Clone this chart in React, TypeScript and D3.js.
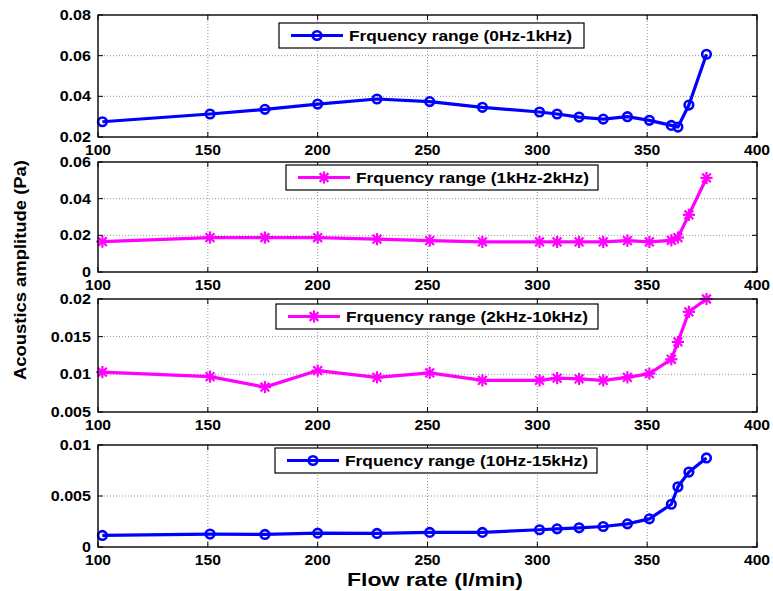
import React from "react";
import * as d3 from "d3";

const flowRate = [102, 151, 176, 200, 227, 251, 275, 301, 309, 319, 330, 341, 351, 361, 364, 369, 377];
const range0to1k = [0.0275, 0.0313, 0.0336, 0.0362, 0.0387, 0.0374, 0.0346, 0.0323, 0.0313, 0.0298, 0.0288, 0.03, 0.0282, 0.0257, 0.0249, 0.0357, 0.0607];
const range1to2k = [0.0166, 0.0188, 0.0188, 0.0188, 0.0179, 0.0171, 0.0164, 0.0164, 0.0164, 0.0164, 0.0164, 0.0171, 0.0164, 0.0173, 0.0188, 0.0312, 0.0513];
const range2to10k = [0.0103, 0.0097, 0.0083, 0.0105, 0.0096, 0.0102, 0.0092, 0.0092, 0.0095, 0.0094, 0.0092, 0.0096, 0.0101, 0.012, 0.0143, 0.0183, 0.02];
const range10to15k = [0.00113, 0.00127, 0.00123, 0.00136, 0.00133, 0.00143, 0.00143, 0.00169, 0.00178, 0.00188, 0.00201, 0.00227, 0.00276, 0.00419, 0.0059, 0.00735, 0.00873];

const xTicks = [100, 150, 200, 250, 300, 350, 400];
const yTicks1 = [0.02, 0.04, 0.06, 0.08];
const yTicks2 = [0, 0.02, 0.04, 0.06];
const yTicks3 = [0.005, 0.01, 0.015, 0.02];
const yTicks4 = [0, 0.005, 0.01];
const yTickLabels1 = ["0.02", "0.04", "0.06", "0.08"];
const yTickLabels2 = ["0", "0.02", "0.04", "0.06"];
const yTickLabels3 = ["0.005", "0.01", "0.015", "0.02"];
const yTickLabels4 = ["0", "0.005", "0.01"];
const legendLabels = [
  "Frquency range (0Hz-1kHz)",
  "Frquency range (1kHz-2kHz)",
  "Frquency range (2kHz-10kHz)",
  "Frquency range (10Hz-15kHz)",
];

const BLUE = "#0000ff";
const MAGENTA = "#ff00ff";
const FONT = "'Liberation Sans', Arial, sans-serif";

const LEFT = 98;
const RIGHT = 757;

type Panel = {
  values: number[];
  ticks: number[];
  tickLabels: string[];
  top: number;
  bottom: number;
  color: string;
  marker: "circle" | "star";
  legend: string;
  legX: number;
  legY: number;
  legW: number;
  legTextW: number;
};

const panels: Panel[] = [
  { values: range0to1k, ticks: yTicks1, tickLabels: yTickLabels1, top: 15, bottom: 137, color: BLUE, marker: "circle", legend: legendLabels[0], legX: 279, legY: 23, legW: 305, legTextW: 223 },
  { values: range1to2k, ticks: yTicks2, tickLabels: yTickLabels2, top: 162, bottom: 272, color: MAGENTA, marker: "star", legend: legendLabels[1], legX: 286, legY: 165, legW: 312, legTextW: 233 },
  { values: range2to10k, ticks: yTicks3, tickLabels: yTickLabels3, top: 299, bottom: 412, color: MAGENTA, marker: "star", legend: legendLabels[2], legX: 276, legY: 304, legW: 322, legTextW: 242 },
  { values: range10to15k, ticks: yTicks4, tickLabels: yTickLabels4, top: 445, bottom: 547, color: BLUE, marker: "circle", legend: legendLabels[3], legX: 275, legY: 448, legW: 322, legTextW: 243 },
];

const x = d3.scaleLinear().domain([100, 400]).range([LEFT, RIGHT]);

function Marker({ kind, cx, cy, color }: { kind: string; cx: number; cy: number; color: string }) {
  if (kind === "circle") {
    return <circle cx={cx} cy={cy} r={4.3} fill="none" stroke={color} strokeWidth={2.6} />;
  }
  const s = 5;
  const d = 3.6;
  return (
    <g stroke={color} strokeWidth={2.2} strokeLinecap="square">
      <line x1={cx - s} y1={cy} x2={cx + s} y2={cy} />
      <line x1={cx} y1={cy - s} x2={cx} y2={cy + s} />
      <line x1={cx - d} y1={cy - d} x2={cx + d} y2={cy + d} />
      <line x1={cx - d} y1={cy + d} x2={cx + d} y2={cy - d} />
    </g>
  );
}

function PanelView({ p }: { p: Panel }) {
  const y = d3.scaleLinear().domain([p.ticks[0], p.ticks[p.ticks.length - 1]]).range([p.bottom, p.top]);
  const line = d3
    .line<number>()
    .x((_, i) => x(flowRate[i]))
    .y((v) => y(v));
  const tl = 5;
  const legMid = p.legY + 12.5;
  return (
    <g>
      {/* grid */}
      {xTicks.slice(1, -1).map((t) => (
        <line key={"gx" + t} x1={x(t)} x2={x(t)} y1={p.top} y2={p.bottom} stroke="#777" strokeWidth={0.8} strokeDasharray="1,2" />
      ))}
      {p.ticks.slice(1, -1).map((t) => (
        <line key={"gy" + t} x1={LEFT} x2={RIGHT} y1={y(t)} y2={y(t)} stroke="#777" strokeWidth={0.8} strokeDasharray="1,2" />
      ))}
      {/* ticks */}
      {xTicks.map((t) => (
        <g key={"tx" + t} stroke="#000" strokeWidth={1}>
          <line x1={x(t)} x2={x(t)} y1={p.bottom} y2={p.bottom - tl} />
          <line x1={x(t)} x2={x(t)} y1={p.top} y2={p.top + tl} />
        </g>
      ))}
      {p.ticks.map((t) => (
        <g key={"ty" + t} stroke="#000" strokeWidth={1}>
          <line x1={LEFT} x2={LEFT + tl} y1={y(t)} y2={y(t)} />
          <line x1={RIGHT} x2={RIGHT - tl} y1={y(t)} y2={y(t)} />
        </g>
      ))}
      {/* tick labels */}
      {xTicks.map((t) => (
        <text key={"lx" + t} x={x(t)} y={p.bottom + 18.5} textAnchor="middle" fontFamily={FONT} fontWeight="bold" fontSize={14}
          transform={`translate(${x(t)},0) scale(1.12,1) translate(${-x(t)},0)`}>
          {t}
        </text>
      ))}
      {p.ticks.map((t, i) => (
        <text key={"ly" + t} x={91} y={y(t) + 5} textAnchor="end" fontFamily={FONT} fontWeight="bold" fontSize={14}
          transform={`translate(91,0) scale(1.15,1) translate(-91,0)`}>
          {p.tickLabels[i]}
        </text>
      ))}
      {/* data */}
      <path d={line(p.values) || ""} fill="none" stroke={p.color} strokeWidth={3.2} strokeLinejoin="round" />
      {p.values.map((v, i) => (
        <Marker key={"m" + i} kind={p.marker} cx={x(flowRate[i])} cy={y(v)} color={p.color} />
      ))}
      {/* frame */}
      <rect x={LEFT} y={p.top} width={RIGHT - LEFT} height={p.bottom - p.top} fill="none" stroke="#000" strokeWidth={1.4} />
      {/* legend */}
      <rect x={p.legX} y={p.legY} width={p.legW} height={25} fill="#fff" stroke="#000" strokeWidth={1.2} />
      <line x1={p.legX + 12} x2={p.legX + 64} y1={legMid} y2={legMid} stroke={p.color} strokeWidth={3.2} />
      <Marker kind={p.marker} cx={p.legX + 38} cy={legMid} color={p.color} />
      <text x={p.legX + 70} y={legMid + 5.5} fontFamily={FONT} fontWeight="bold" fontSize={15} textLength={p.legTextW} lengthAdjust="spacingAndGlyphs">
        {p.legend}
      </text>
    </g>
  );
}

export default function App() {
  return (
    <svg width={773} height={591} style={{ position: "absolute", left: 0, top: 0, background: "#fff" }}>
      <rect width={773} height={591} fill="#fff" />
      {panels.map((p, i) => (
        <PanelView key={i} p={p} />
      ))}
      <text x={435} y={586} textAnchor="middle" fontFamily={FONT} fontWeight="bold" fontSize={18} textLength={176} lengthAdjust="spacingAndGlyphs">
        Flow rate (l/min)
      </text>
      <text transform="translate(26,270) rotate(-90)" textAnchor="middle" fontFamily={FONT} fontWeight="bold" fontSize={16} textLength={220} lengthAdjust="spacingAndGlyphs">
        Acoustics amplitude  (Pa)
      </text>
    </svg>
  );
}
